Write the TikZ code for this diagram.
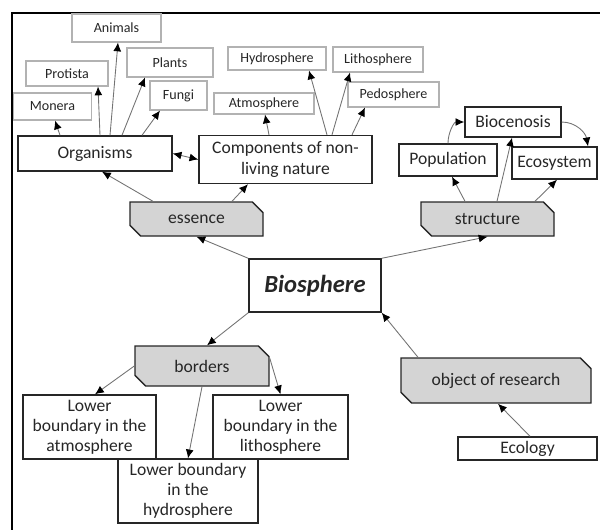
\documentclass[tikz,border=0pt]{standalone}
\usepackage{fontspec}
\setmainfont{Carlito}
\usetikzlibrary{shapes.misc, arrows.meta}

\tikzset{
  leaf/.style={draw=black!30, line width=0.6pt, text=black!85,
    font=\fontsize{8}{9.5}\selectfont, inner sep=1pt},
  topic/.style={draw=black!85, line width=0.8pt, text=black!85, align=center,
    font=\fontsize{10}{11.5}\selectfont, inner sep=1pt},
  aspect/.style={chamfered rectangle, chamfered rectangle corners={north east,south west},
    chamfered rectangle xsep=3pt, chamfered rectangle ysep=3pt,
    fill=aspectfill, draw=black!85, line width=0.8pt, text=black!85,
    font=\fontsize{10}{11.5}\selectfont, inner sep=1pt},
  link/.style={->, >={Latex[length=5pt, width=4.5pt, black]}, draw=black!55, line width=0.5pt},
}

\begin{document}
\begin{tikzpicture}
  % Define colors
  \colorlet{aspectfill}{black!17}

  \useasboundingbox (0,0) rectangle (12,-10.58);

  % Frame
  \draw[line width=1.2pt] (12.2,-0.26) -- (0.24,-0.26) -- (0.24,-10.8);

  % Centre
  \node[topic, minimum width=2.64cm, minimum height=1.06cm,
    font=\fontsize{14}{16}\selectfont\bfseries\itshape] (bsp) at (6.30,-5.71) {Biosphere};

  % Aspects
  \node[aspect, minimum width=2.66cm, minimum height=0.68cm] (ess) at (3.93,-4.38) {essence};
  \node[aspect, minimum width=2.66cm, minimum height=0.68cm] (str) at (9.75,-4.38) {structure};
  \node[aspect, minimum width=2.68cm, minimum height=0.80cm] (bor) at (4.04,-7.32) {borders};
  \node[aspect, minimum width=3.80cm, minimum height=0.90cm] (obj) at (9.92,-7.61) {object of research};

  % Essence branch
  \node[topic, minimum width=3.08cm, minimum height=0.70cm] (org) at (1.90,-3.07) {Organisms};
  \node[topic, minimum width=3.46cm, minimum height=0.96cm] (comp) at (5.71,-3.19) {Components of non-\\living nature};

  \node[leaf, minimum width=1.78cm, minimum height=0.56cm] (ani) at (2.33,-0.56) {Animals};
  \node[leaf, minimum width=1.64cm, minimum height=0.50cm] (pro) at (1.34,-1.47) {Protista};
  \node[leaf, minimum width=1.72cm, minimum height=0.58cm] (pla) at (3.40,-1.25) {Plants};
  \node[leaf, minimum width=1.56cm, minimum height=0.54cm] (mon) at (1.05,-2.13) {Monera};
  \node[leaf, minimum width=1.14cm, minimum height=0.58cm] (fun) at (3.57,-1.91) {Fungi};

  \node[leaf, minimum width=1.96cm, minimum height=0.46cm] (hyd) at (5.54,-1.17) {Hydrosphere};
  \node[leaf, minimum width=1.80cm, minimum height=0.50cm] (lit) at (7.56,-1.19) {Lithosphere};
  \node[leaf, minimum width=2.00cm, minimum height=0.42cm] (atm) at (5.28,-2.07) {Atmosphere};
  \node[leaf, minimum width=1.82cm, minimum height=0.50cm] (ped) at (7.87,-1.89) {Pedosphere};

  % Structure branch
  \node[topic, minimum width=1.92cm, minimum height=0.60cm] (bio) at (10.26,-2.44) {Biocenosis};
  \node[topic, minimum width=1.96cm, minimum height=0.64cm] (pop) at (8.96,-3.20) {Population};
  \node[topic, minimum width=1.70cm, minimum height=0.64cm] (eco) at (11.09,-3.26) {Ecosystem};

  % Borders branch
  \node[topic, minimum width=2.66cm, minimum height=1.28cm] (lat) at (1.79,-8.54) {Lower\\boundary in the\\atmosphere};
  \node[topic, minimum width=2.70cm, minimum height=1.28cm] (lli) at (5.61,-8.54) {Lower\\boundary in the\\lithosphere};
  \node[topic, minimum width=2.80cm, minimum height=1.28cm] (lhy) at (3.76,-9.82) {Lower boundary\\in the\\hydrosphere};

  % Object of research
  \node[topic, minimum width=2.78cm, minimum height=0.46cm] (ecl) at (10.55,-8.97) {Ecology};

  % Arrows from the centre
  \draw[link] (bsp.north west) -- (ess.south);
  \draw[link] (bsp.north east) -- (str.south);
  \draw[link] (bsp.south west) -- ([xshift=0.1cm]bor.north);
  \draw[link] ([xshift=-1.56cm]obj.north) -- (bsp.south east);
  \draw[link] ([xshift=0.05cm]ecl.north) -- ([xshift=0.04cm]obj.south);

  % Essence arrows
  \draw[link] ([xshift=-0.87cm]ess.north) -- ([xshift=0.14cm]org.south);
  \draw[link] ([xshift=0.71cm]ess.north) -- ([xshift=-0.75cm]comp.south);
  \draw[link, <->] (org.east) -- (comp.west);

  \draw[link] ([xshift=-0.70cm]org.north) -- ([xshift=0.05cm]mon.south);
  \draw[link] ([xshift=0.10cm]org.north) -- ([xshift=0.62cm]pro.south);
  \draw[link] ([xshift=0.30cm]org.north) -- ([xshift=0.03cm]ani.south);
  \draw[link] ([xshift=0.54cm]org.north) -- ([xshift=-0.50cm]pla.south);
  \draw[link] ([xshift=0.94cm]org.north) -- ([xshift=-0.37cm]fun.south);

  \draw[link] ([xshift=-0.33cm]comp.north) -- ([xshift=0.02cm]atm.south);
  \draw[link] ([xshift=0.83cm]comp.north) -- ([xshift=0.64cm]hyd.south);
  \draw[link] ([xshift=0.93cm]comp.north) -- ([xshift=-0.56cm]lit.south);
  \draw[link] ([xshift=1.33cm]comp.north) -- ([xshift=-0.57cm]ped.south);

  % Structure arrows
  \draw[link] ([xshift=-0.45cm]str.north) -- ([xshift=0.08cm]pop.south);
  \draw[link] ([xshift=0.19cm]str.north) -- ([xshift=-0.02cm]bio.south);
  \draw[link] ([xshift=0.95cm]str.north) -- ([xshift=0.05cm]eco.south);
  \draw[link] (pop.north) to[out=90, in=180] (bio.west);
  \draw[link] (bio.east) to[out=0, in=100] ([xshift=0.67cm]eco.north);

  % Borders arrows
  \draw[link] (bor.west) -- ([xshift=0.11cm]lat.north);
  \draw[link] (bor.south) -- (lhy.north);
  \draw[link] ([yshift=0.16cm]bor.east) -- (lli.north);
\end{tikzpicture}
\end{document}
